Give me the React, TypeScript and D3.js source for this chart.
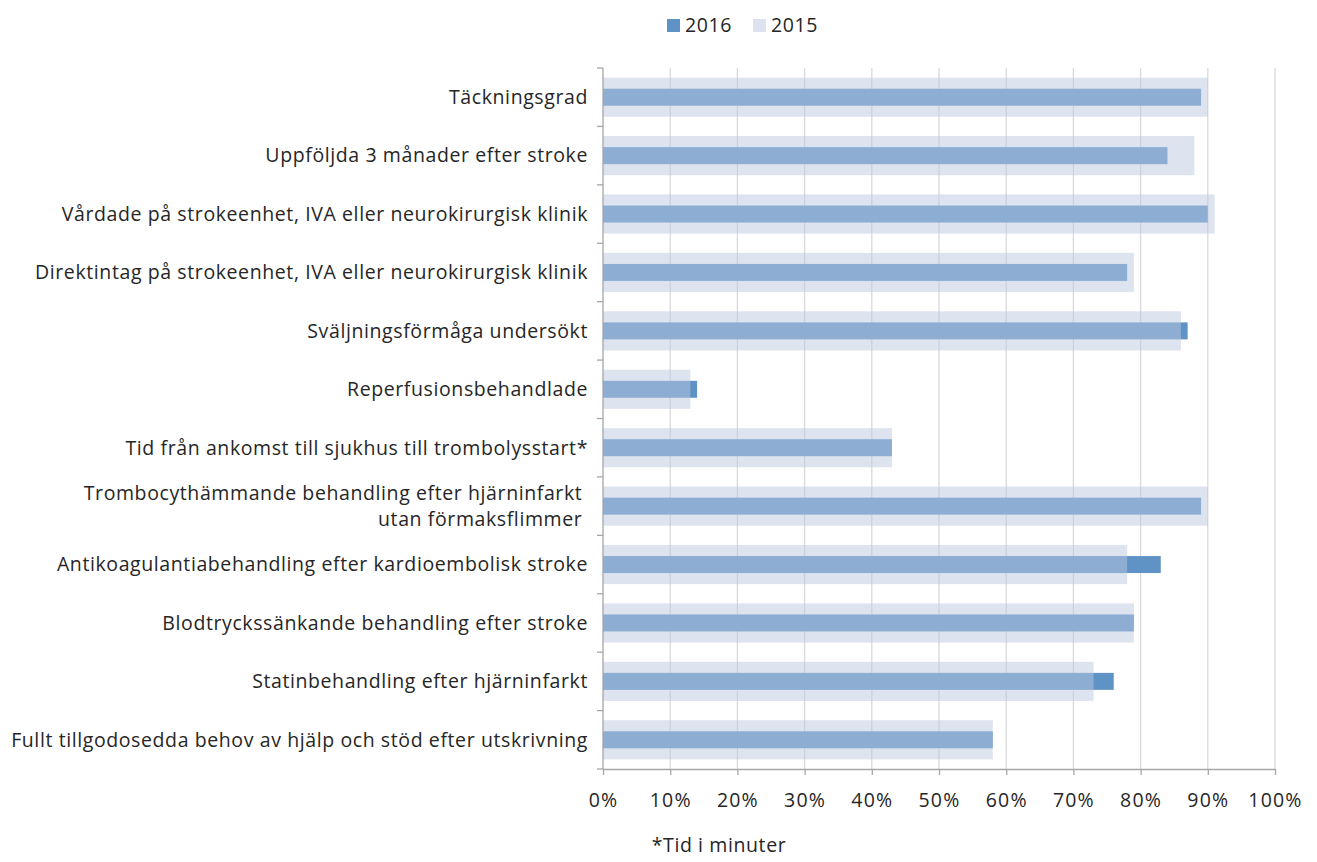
import { useEffect, useRef } from 'react';
import * as d3 from 'd3';

// indicator labels, top to bottom (lines split with \n)
const categories: string[] = [
  'Täckningsgrad',
  'Uppföljda 3 månader efter stroke',
  'Vårdade på strokeenhet, IVA eller neurokirurgisk klinik',
  'Direktintag på strokeenhet, IVA eller neurokirurgisk klinik',
  'Sväljningsförmåga undersökt',
  'Reperfusionsbehandlade',
  'Tid från ankomst till sjukhus till trombolysstart*',
  'Trombocythämmande behandling efter hjärninfarkt \nutan förmaksflimmer ',
  'Antikoagulantiabehandling efter kardioembolisk stroke',
  'Blodtryckssänkande behandling efter stroke',
  'Statinbehandling efter hjärninfarkt',
  'Fullt tillgodosedda behov av hjälp och stöd efter utskrivning',
];

const values2016: number[] = [89, 84, 90, 78, 87, 14, 43, 89, 83, 79, 76, 58];
const values2015: number[] = [90, 88, 91, 79, 86, 13, 43, 90, 78, 79, 73, 58];

const xTicks: number[] = [0, 10, 20, 30, 40, 50, 60, 70, 80, 90, 100];
const seriesNames: string[] = ['2016', '2015'];

const W = 1317;
const H = 862;
const FONT = '"Open Sans", "Noto Sans", sans-serif';
const FS = '19.5px';
const LS = '0.6px';

const App: React.FC = () => {
  const svgRef = useRef<SVGSVGElement | null>(null);

  useEffect(() => {
    if (!svgRef.current) return;
    const svg = d3.select(svgRef.current);
    svg.selectAll('*').remove();

    const left = 603;
    const right = 1275;
    const top = 68;
    const bottom = 769;

    const x = d3.scaleLinear().domain([0, 100]).range([left, right]);
    const y = d3
      .scaleBand<string>()
      .domain(categories)
      .range([top, bottom])
      .paddingInner(0.33)
      .paddingOuter(0.165);
    const step = y.step();

    // gridlines
    svg
      .append('g')
      .selectAll('line')
      .data(xTicks.slice(1))
      .enter()
      .append('line')
      .attr('x1', (d) => x(d))
      .attr('x2', (d) => x(d))
      .attr('y1', top)
      .attr('y2', bottom)
      .attr('stroke', '#d9d9d9')
      .attr('stroke-width', 1.3);

    // 2016 bars (narrow, behind)
    const thin = 17;
    svg
      .append('g')
      .selectAll('rect')
      .data(categories)
      .enter()
      .append('rect')
      .attr('x', x(0))
      .attr('y', (d) => (y(d) ?? 0) + y.bandwidth() / 2 - thin / 2)
      .attr('width', (_d, i) => x(values2016[i]) - x(0))
      .attr('height', thin)
      .attr('fill', '#5f93c6');

    // 2015 bars (wide, semi-transparent on top)
    svg
      .append('g')
      .selectAll('rect')
      .data(categories)
      .enter()
      .append('rect')
      .attr('x', x(0))
      .attr('y', (d) => y(d) ?? 0)
      .attr('width', (_d, i) => x(values2015[i]) - x(0))
      .attr('height', y.bandwidth())
      .attr('fill', 'rgb(188,199,223)')
      .attr('fill-opacity', 0.5);

    // x axis
    const xAxis = svg
      .append('g')
      .attr('transform', `translate(0,${bottom})`)
      .call(d3.axisBottom(x).tickValues(xTicks).tickSize(6).tickSizeOuter(0).tickFormat((d) => `${d}%`));
    xAxis.select('.domain').attr('stroke', '#a6a6a6').attr('stroke-width', 1.3);
    xAxis.selectAll('.tick line').attr('stroke', '#a6a6a6').attr('stroke-width', 1.3);
    xAxis
      .selectAll('.tick text')
      .attr('dy', 0)
      .attr('y', 38)
      .attr('fill', '#262626')
      .style('font-family', FONT)
      .style('font-size', FS)
      .style('letter-spacing', '1.2px');

    // y axis line + boundary ticks
    svg
      .append('line')
      .attr('x1', left)
      .attr('x2', left)
      .attr('y1', top)
      .attr('y2', bottom)
      .attr('stroke', '#a6a6a6')
      .attr('stroke-width', 1.3);
    svg
      .append('g')
      .selectAll('line')
      .data(d3.range(categories.length + 1))
      .enter()
      .append('line')
      .attr('x1', left - 6)
      .attr('x2', left)
      .attr('y1', (i) => top + i * step)
      .attr('y2', (i) => top + i * step)
      .attr('stroke', '#a6a6a6')
      .attr('stroke-width', 1.3);

    // category labels
    const lab = svg
      .append('g')
      .selectAll('text')
      .data(categories)
      .enter()
      .append('text')
      .attr('text-anchor', 'end')
      .attr('fill', '#262626')
      .style('font-family', FONT)
      .style('font-size', FS)
      .style('letter-spacing', LS)
      .style('white-space', 'pre')
      .attr('y', (d) => (y(d) ?? 0) + y.bandwidth() / 2);
    lab.each(function (d) {
      const lines = d.split('\n');
      const t = d3.select(this);
      lines.forEach((ln, j) => {
        t.append('tspan')
          .attr('x', 588)
          .attr('dy', j === 0 ? `${0.35 - (lines.length - 1) * 0.68}em` : '1.36em')
          .text(ln);
      });
    });

    // legend
    const lg = svg.append('g').attr('transform', 'translate(667,25)');
    const colors = ['#5f93c6', '#dde3ee'];
    const offs = [0, 86];
    seriesNames.forEach((s, i) => {
      lg.append('rect').attr('x', offs[i]).attr('y', -6).attr('width', 13).attr('height', 13).attr('fill', colors[i]);
      lg.append('text')
        .attr('x', offs[i] + 18)
        .attr('y', 0)
        .attr('dy', '0.35em')
        .attr('fill', '#262626')
        .style('font-family', FONT)
        .style('font-size', FS)
        .style('letter-spacing', LS)
        .text(s);
    });

    // footnote
    svg
      .append('text')
      .attr('x', 719)
      .attr('y', 852)
      .attr('text-anchor', 'middle')
      .attr('fill', '#262626')
      .style('font-family', FONT)
      .style('font-size', FS)
      .style('letter-spacing', LS)
      .text('*Tid i minuter');
  }, []);

  return (
    <svg
      ref={svgRef}
      width={W}
      height={H}
      style={{ position: 'absolute', left: 0, top: 0, background: '#fff' }}
    ></svg>
  );
};

export default App;
